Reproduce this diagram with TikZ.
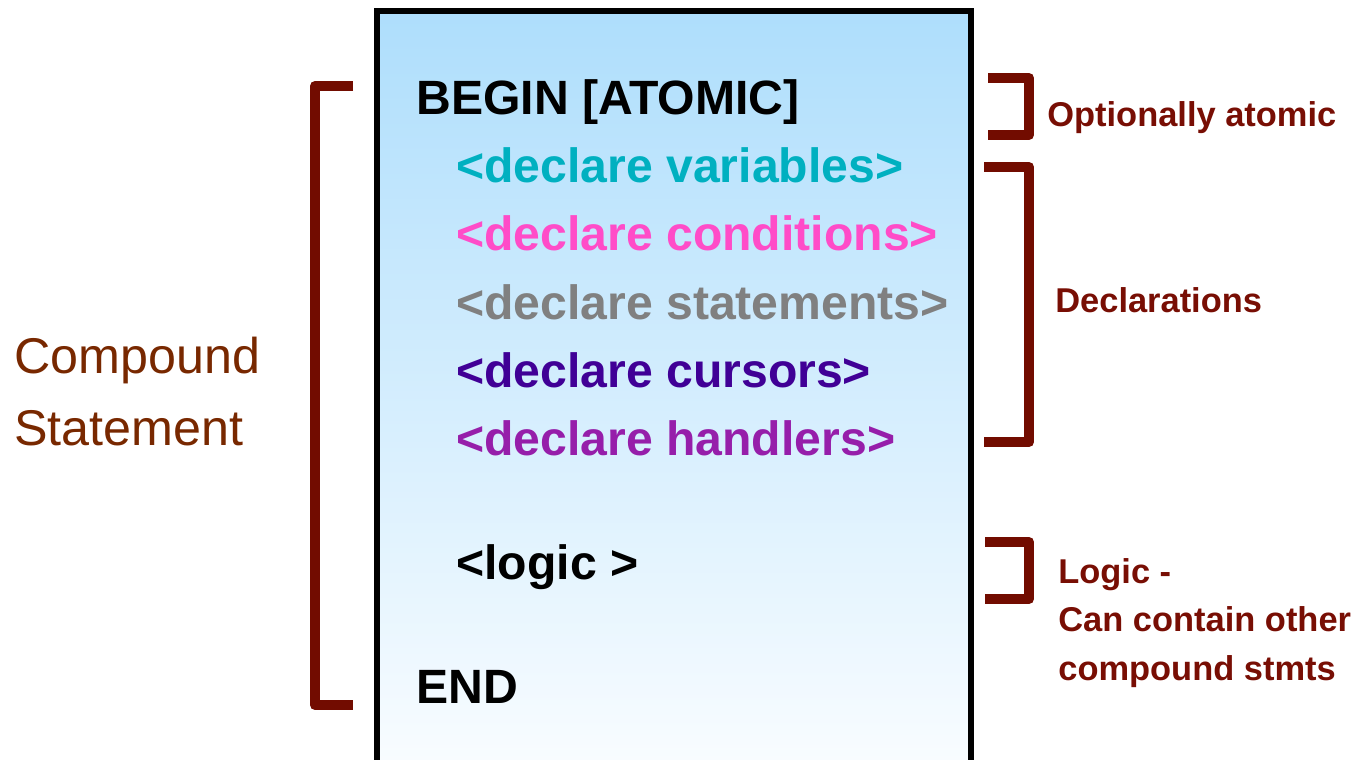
\documentclass[tikz,border=0pt]{standalone}
\usepackage{fontspec}
\setmainfont{Liberation Sans}

\definecolor{brk}{RGB}{114,12,0}
\definecolor{notered}{RGB}{120,14,4}
\definecolor{brown}{RGB}{120,40,0}
\definecolor{boxtop}{RGB}{174,222,252}
\definecolor{boxbot}{RGB}{248,252,255}
\definecolor{cvar}{RGB}{0,176,192}
\definecolor{ccond}{RGB}{255,76,200}
\definecolor{cstmt}{RGB}{128,128,128}
\definecolor{ccurs}{RGB}{64,0,150}
\definecolor{chand}{RGB}{150,30,170}

\begin{document}
\begin{tikzpicture}[x=0.02cm, y=-0.02cm,
  code/.style={font=\fontsize{27.4}{32}\selectfont\bfseries, anchor=base west, inner sep=0},
  note/.style={notered, font=\fontsize{19.6}{24}\selectfont\bfseries, anchor=base west, inner sep=0},
  big/.style={brown, font=\fontsize{28.6}{34}\selectfont, anchor=base west, inner sep=0},
  brace/.style={brk, line width=0.2cm, line join=round}]

\useasboundingbox (0,0) rectangle (1356,760);

% the statement block
\shade[top color=boxtop, bottom color=boxbot] (377,11) rectangle (971,760);
\draw[line width=0.12cm] (377,780) -- (377,11) -- (971,11) -- (971,780);

\node[code] (begin) at (416,115) {BEGIN [ATOMIC]};
\node[code, cvar] (vars) at (456,183) {<declare variables>};
\node[code, ccond] (conds) at (456,251) {<declare conditions>};
\node[code, cstmt] (stmts) at (456,319) {<declare statements>};
\node[code, ccurs] (curs) at (456,387) {<declare cursors>};
\node[code, chand] (hands) at (456,455) {<declare handlers>};
\node[code] (logic) at (456,579) {<logic >};
\node[code] (end) at (416,703) {END};

% left bracket
\draw[brace] (353,86) -- (315,86) -- (315,705) -- (353,705);
\node[big] (cmp) at (14,373) {Compound};
\node[big] (stm) at (14,445) {Statement};

% right brackets
\draw[brace] (988,78) -- (1029,78) -- (1029,135) -- (988,135);
\draw[brace] (984,167) -- (1029,167) -- (1029,442) -- (984,442);
\draw[brace] (985,542) -- (1029,542) -- (1029,599) -- (985,599);

\node[note] (atom) at (1047,127) {Optionally atomic};
\node[note] (decl) at (1055,313) {Declarations};
\node[note] (lg1) at (1058,583) {Logic -};
\node[note] (lg2) at (1058,631) {Can contain other};
\node[note] (lg3) at (1058,680) {compound stmts};

\end{tikzpicture}
\end{document}
